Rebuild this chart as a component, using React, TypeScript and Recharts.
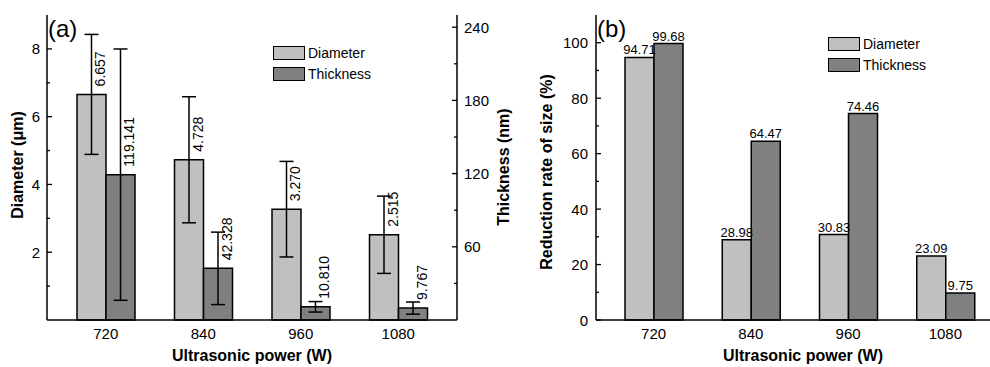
import { Bar, BarChart, ErrorBar, LabelList, Legend, XAxis, YAxis } from "recharts";

const powers = ["720", "840", "960", "1080"];
const diameter = [6.657, 4.728, 3.27, 2.515];
const diameterErr = [1.77, 1.86, 1.41, 1.14];
const thickness = [119.141, 42.328, 10.81, 9.767];
const thicknessErr = [103, 29.7, 4.3, 5];
const diameterReduction = [94.71, 28.98, 30.83, 23.09];
const thicknessReduction = [99.68, 64.47, 74.46, 9.75];

const diameterTicks = [1, 2, 3, 4, 5, 6, 7, 8];
const diameterLabels = [2, 4, 6, 8];
const thicknessTicks = [30, 60, 90, 120, 150, 180, 210, 240];
const thicknessLabels = [60, 120, 180, 240];
const reductionTicks = [0, 10, 20, 30, 40, 50, 60, 70, 80, 90, 100];
const reductionLabels = [0, 20, 40, 60, 80, 100];

const LIGHT = "#c0c0c0";
const DARK = "#808080";
const FONT = "'Liberation Sans', Arial, sans-serif";

const sizeData = powers.map((p, i) => ({
  power: p,
  diameter: diameter[i],
  diameterErr: diameterErr[i],
  thickness: thickness[i],
  thicknessErr: thicknessErr[i],
}));

const reductionData = powers.map((p, i) => ({
  power: p,
  diameter: diameterReduction[i],
  thickness: thicknessReduction[i],
}));

// ticks point into the plot, minor ticks are shorter and unlabeled
function makeTick(labels: number[], side: "left" | "right", margin: number) {
  return (props: any) => {
    const { x, y, payload } = props;
    const major = labels.includes(payload.value);
    const len = major ? 5 : 3;
    const axisX = side === "left" ? x + margin : x - margin;
    const x2 = side === "left" ? axisX + len : axisX - len;
    return (
      <g>
        <line x1={axisX} y1={y} x2={x2} y2={y} stroke="#000" strokeWidth={1.3} />
        {major && (
          <text
            x={x}
            y={y}
            textAnchor={side === "left" ? "end" : "start"}
            dominantBaseline="central"
            fontSize={15}
            fontFamily={FONT}
            fill="#000"
          >
            {payload.value}
          </text>
        )}
      </g>
    );
  };
}

const RotatedLabel = (props: any) => {
  const vb = props.viewBox ?? props;
  const cx = vb.x + vb.width / 2 + 9;
  const cy = vb.y - 8;
  return (
    <text
      x={cx}
      y={cy}
      transform={`rotate(-90 ${cx} ${cy})`}
      textAnchor="start"
      dominantBaseline="central"
      fontSize={14}
      fontFamily={FONT}
      fill="#000"
    >
      {Number(props.value).toFixed(3)}
    </text>
  );
};

const LegendBox = () => (
  <div style={{ fontFamily: FONT, fontSize: 14, color: "#000" }}>
    {[
      { name: "Diameter", color: LIGHT },
      { name: "Thickness", color: DARK },
    ].map((s) => (
      <div key={s.name} style={{ display: "flex", alignItems: "center", height: 21 }}>
        <span
          style={{
            width: 30,
            height: 12,
            background: s.color,
            border: "1.5px solid #000",
            display: "inline-block",
          }}
        />
        <span style={{ marginLeft: 3 }}>{s.name}</span>
      </div>
    ))}
  </div>
);

const tickFont = { fill: "#000", fontSize: 15, fontFamily: FONT };
const axisLine = { stroke: "#000", strokeWidth: 1.5 };

function SizeChart() {
  return (
    <BarChart
      width={530}
      height={367}
      data={sizeData}
      margin={{ top: 15, right: 33, bottom: 17, left: 7 }}
      barGap={0}
      barSize={29}
    >
      <XAxis
        dataKey="power"
        padding={{ left: 10, right: 10 }}
        tickLine={false}
        tickSize={0}
        tickMargin={8}
        tick={tickFont}
        axisLine={axisLine}
        height={30}
      />
      <XAxis xAxisId="top" dataKey="power" orientation="top" tick={false} tickLine={false} axisLine={axisLine} height={0} />
      <YAxis
        yAxisId="left"
        domain={[0, 9]}
        ticks={diameterTicks}
        interval={0}
        tickLine={false}
        tickSize={0}
        tickMargin={7}
        tick={makeTick(diameterLabels, "left", 7)}
        axisLine={axisLine}
        width={40}
      />
      <YAxis
        yAxisId="right"
        orientation="right"
        domain={[0, 250]}
        ticks={thicknessTicks}
        interval={0}
        tickLine={false}
        tickSize={0}
        tickMargin={7}
        tick={makeTick(thicknessLabels, "right", 7)}
        axisLine={axisLine}
        width={40}
      />
      <Legend
        content={<LegendBox />}
        layout="vertical"
        align="center"
        verticalAlign="middle"
        wrapperStyle={{ position: "absolute", left: 273, top: 42, width: "auto" }}
      />
      <Bar yAxisId="left" dataKey="diameter" fill={LIGHT} stroke="#000" strokeWidth={1.5} isAnimationActive={false}>
        <ErrorBar dataKey="diameterErr" width={7} stroke="#000" strokeWidth={1.5} direction="y" />
        <LabelList dataKey="diameter" content={RotatedLabel} />
      </Bar>
      <Bar yAxisId="right" dataKey="thickness" fill={DARK} stroke="#000" strokeWidth={1.5} isAnimationActive={false}>
        <ErrorBar dataKey="thicknessErr" width={7} stroke="#000" strokeWidth={1.5} direction="y" />
        <LabelList dataKey="thickness" content={RotatedLabel} />
      </Bar>
      <text x={48} y={37} fontSize={24} fontFamily={FONT} fill="#000">(a)</text>
      <text
        x={17}
        y={165}
        transform="rotate(-90 17 165)"
        textAnchor="middle"
        dominantBaseline="central"
        fontSize={16}
        fontWeight="bold"
        fontFamily={FONT}
        fill="#000"
      >
        Diameter (μm)
      </text>
      <text
        x={503}
        y={167}
        transform="rotate(-90 503 167)"
        textAnchor="middle"
        dominantBaseline="central"
        fontSize={16}
        fontWeight="bold"
        fontFamily={FONT}
        fill="#000"
      >
        Thickness (nm)
      </text>
      <text x={252} y={361} textAnchor="middle" fontSize={16} fontWeight="bold" fontFamily={FONT} fill="#000">
        Ultrasonic power (W)
      </text>
    </BarChart>
  );
}

function ReductionChart() {
  return (
    <BarChart
      width={490}
      height={367}
      data={reductionData}
      margin={{ top: 15, right: 17, bottom: 17, left: 26 }}
      barGap={0}
      barSize={29}
    >
      <XAxis
        dataKey="power"
        padding={{ left: 9, right: 9 }}
        tickLine={false}
        tickSize={0}
        tickMargin={8}
        tick={tickFont}
        axisLine={axisLine}
        height={30}
      />
      <XAxis xAxisId="top" dataKey="power" orientation="top" tick={false} tickLine={false} axisLine={axisLine} height={0} />
      <YAxis
        domain={[0, 110]}
        ticks={reductionTicks}
        interval={0}
        tickLine={false}
        tickSize={0}
        tickMargin={8}
        tick={makeTick(reductionLabels, "left", 8)}
        axisLine={axisLine}
        width={40}
      />
      <Legend
        content={<LegendBox />}
        layout="vertical"
        align="center"
        verticalAlign="middle"
        wrapperStyle={{ position: "absolute", left: 298, top: 33, width: "auto" }}
      />
      <Bar dataKey="diameter" fill={LIGHT} stroke="#000" strokeWidth={1.5} isAnimationActive={false}>
        <LabelList
          dataKey="diameter"
          position="top"
          offset={3}
          fontSize={13}
          fontFamily={FONT}
          fill="#000"
          formatter={(v: any) => Number(v).toFixed(2)}
        />
      </Bar>
      <Bar dataKey="thickness" fill={DARK} stroke="#000" strokeWidth={1.5} isAnimationActive={false}>
        <LabelList
          dataKey="thickness"
          position="top"
          offset={3}
          fontSize={13}
          fontFamily={FONT}
          fill="#000"
          formatter={(v: any) => Number(v).toFixed(2)}
        />
      </Bar>
      <text x={67} y={37} fontSize={24} fontFamily={FONT} fill="#000">(b)</text>
      <text
        x={16}
        y={172}
        transform="rotate(-90 16 172)"
        textAnchor="middle"
        dominantBaseline="central"
        fontSize={16}
        fontWeight="bold"
        fontFamily={FONT}
        fill="#000"
      >
        Reduction rate of size (%)
      </text>
      <text x={273} y={361} textAnchor="middle" fontSize={16} fontWeight="bold" fontFamily={FONT} fill="#000">
        Ultrasonic power (W)
      </text>
    </BarChart>
  );
}

export default function App() {
  return (
    <div
      style={{
        position: "fixed",
        left: 0,
        top: 0,
        width: 990,
        height: 367,
        overflow: "hidden",
        background: "#fff",
      }}
    >
      <div style={{ position: "absolute", left: 0, top: 0 }}>
        <SizeChart />
      </div>
      <div style={{ position: "absolute", left: 530, top: 0 }}>
        <ReductionChart />
      </div>
    </div>
  );
}
